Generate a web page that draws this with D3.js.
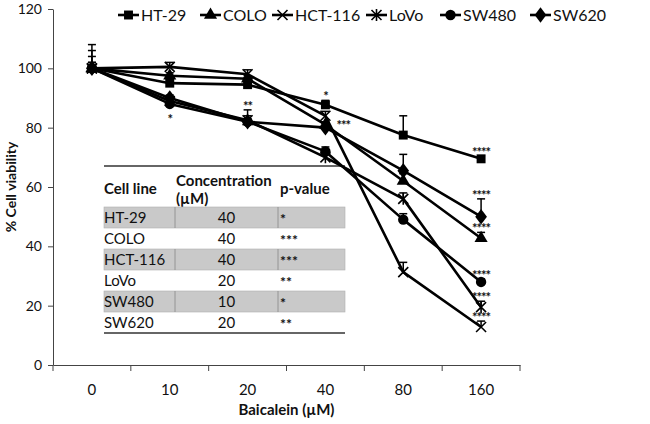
<!DOCTYPE html>
<html>
<head>
<meta charset="utf-8">
<script src="https://cdn.jsdelivr.net/npm/d3@7"></script>
<style>
  body { margin: 0; background: #fff; }
  svg text { font-family: Lato, "Liberation Sans", sans-serif; fill: #111; }
</style>
</head>
<body>
<svg id="chart" width="650" height="424"></svg>
<script>
// Doses (x categories) and y ticks
const doses = ['0', '10', '20', '40', '80', '160'];
const yTicks = [0, 20, 40, 60, 80, 100, 120];

// Mean % viability per cell line
const cellLines = ['HT-29', 'COLO', 'HCT-116', 'LoVo', 'SW480', 'SW620'];
const ht29   = [100, 95, 94.5, 87.7, 77.5, 69.5];
const colo   = [100, 97.5, 96.5, 81, 62, 42.7];
const hct116 = [100, 100.5, 98, 84, 31.3, 12.8];
const lovo   = [100, 89, 82.5, 70, 56, 19.5];
const sw480  = [100, 88, 82, 72, 49, 28];
const sw620  = [100, 90, 82, 80, 65.5, 50];

// Upper error bars
const ht29Err   = [4, 1.5, 1.5, 1.5, 6.5, 1];
const coloErr   = [2, 1, 1, 1, 2.5, 2];
const hct116Err = [8, 1.5, 1.5, 1.5, 3.3, 2];
const lovoErr   = [6, 1, 1.5, 1.5, 2, 2];
const sw480Err  = [2, 1, 1, 1.5, 2, 1];
const sw620Err  = [1, 1, 4, 1.5, 5.5, 6];

// significance marks on the plot
const sigSeries = ['SW480', 'SW620', 'HT-29', 'COLO', 'HT-29', 'COLO', 'HCT-116', 'LoVo', 'SW480', 'SW620'];
const sigDose   = ['10', '20', '40', '40', '160', '160', '160', '160', '160', '160'];
const sigText   = ['*', '**', '*', '***', '****', '****', '****', '****', '****', '****'];

// inset table
const tableConc = ['40', '40', '40', '20', '10', '20'];
const tableP    = ['*', '***', '***', '**', '*', '**'];

const values = [ht29, colo, hct116, lovo, sw480, sw620];
const errors = [ht29Err, coloErr, hct116Err, lovoErr, sw480Err, sw620Err];
const shapes = ['square', 'triangle', 'x', 'star', 'circle', 'diamond'];

const svg = d3.select('#chart');
const x0 = 53, x1 = 520;
const x = d3.scaleBand().domain(doses).range([x0, x1]);
const y = d3.scaleLinear().domain([0, 120]).range([365, 9]);
const cx = d => x(d) + x.bandwidth() / 2;

// axes
const yAxis = svg.append('g')
  .attr('transform', `translate(${x0},0)`)
  .call(d3.axisLeft(y).tickValues(yTicks).tickSize(5).tickPadding(6).tickSizeOuter(0));
yAxis.selectAll('text').attr('font-size', 14);
yAxis.selectAll('line, path').attr('stroke', '#444');

const xAxis = svg.append('g')
  .attr('transform', 'translate(0,365)')
  .call(d3.axisBottom(x).tickSize(0).tickPadding(19).tickSizeOuter(0));
xAxis.selectAll('text').attr('font-size', 15);
xAxis.select('path').attr('stroke', '#444');
xAxis.selectAll('.bnd')
  .data(d3.range(doses.length + 1))
  .join('line')
  .attr('x1', i => x0 + i * x.step()).attr('x2', i => x0 + i * x.step())
  .attr('y1', 0).attr('y2', 6)
  .attr('stroke', '#444');

svg.append('text')
  .attr('x', (x0 + x1) / 2).attr('y', 415)
  .attr('text-anchor', 'middle')
  .attr('font-size', 15).attr('font-weight', 'bold')
  .text('Baicalein (µM)');

svg.append('text')
  .attr('transform', 'translate(16,187) rotate(-90)')
  .attr('text-anchor', 'middle')
  .attr('font-size', 14).attr('font-weight', 'bold')
  .text('% Cell viability');

// inset table
const tbl = svg.append('g');
const tx0 = 104, tx1 = 345, colA = 175, colB = 278, rowTop = 207, rowH = 21;
tbl.append('line').attr('x1', tx0).attr('x2', tx1).attr('y1', 166).attr('y2', 166)
  .attr('stroke', '#333').attr('stroke-width', 1.5);
tbl.append('text').attr('x', tx0).attr('y', 194).attr('font-size', 15).attr('font-weight', 'bold').text('Cell line');
tbl.append('text').attr('x', colA + 1).attr('y', 186).attr('font-size', 15).attr('font-weight', 'bold').text('Concentration');
tbl.append('text').attr('x', colA + 1).attr('y', 204).attr('font-size', 15).attr('font-weight', 'bold').text('(µM)');
tbl.append('text').attr('x', colB + 2).attr('y', 194).attr('font-size', 15).attr('font-weight', 'bold').text('p-value');
cellLines.forEach((c, i) => {
  const ry = rowTop + i * rowH;
  if (i % 2 === 0) {
    tbl.append('rect').attr('x', tx0).attr('y', ry).attr('width', tx1 - tx0).attr('height', rowH)
      .attr('fill', '#c9c9c9').attr('stroke', '#b0b0b0').attr('stroke-width', 0.6);
    [colA, colB].forEach(cx0 => tbl.append('line').attr('x1', cx0).attr('x2', cx0)
      .attr('y1', ry).attr('y2', ry + rowH).attr('stroke', '#888').attr('stroke-width', 0.8));
  }
  tbl.append('text').attr('x', tx0).attr('y', ry + 16).attr('font-size', 15).text(c);
  tbl.append('text').attr('x', (colA + colB) / 2).attr('y', ry + 16).attr('text-anchor', 'middle')
    .attr('font-size', 15).text(tableConc[i]);
  tbl.append('text').attr('x', colB + 2).attr('y', ry + 17).attr('font-size', 14).attr('font-weight', 'bold').text(tableP[i]);
});
tbl.append('line').attr('x1', tx0).attr('x2', tx1).attr('y1', 333).attr('y2', 333)
  .attr('stroke', '#333').attr('stroke-width', 1.5);

// marker drawing
function drawMarker(g, shape, px, py) {
  if (shape === 'x') {
    g.append('path').attr('d', `M${px-5},${py-5}L${px+5},${py+5}M${px-5},${py+5}L${px+5},${py-5}`)
      .attr('stroke', '#000').attr('stroke-width', 1.6).attr('fill', 'none');
  } else if (shape === 'star') {
    g.append('path').attr('d', `M${px-5},${py-5}L${px+5},${py+5}M${px-5},${py+5}L${px+5},${py-5}M${px},${py-6}L${px},${py+6}`)
      .attr('stroke', '#000').attr('stroke-width', 1.6).attr('fill', 'none');
  } else {
    const sym = { square: d3.symbolSquare, triangle: d3.symbolTriangle, circle: d3.symbolCircle, diamond: d3.symbolDiamond }[shape];
    const size = { square: 80, triangle: 75, circle: 85, diamond: 70 }[shape];
    g.append('path').attr('d', d3.symbol().type(sym).size(size)())
      .attr('transform', `translate(${px},${py})` + (shape === 'diamond' ? ' scale(1.3,1)' : ''))
      .attr('fill', '#000');
  }
}

// series
const line = d3.line().x((d, i) => cx(doses[i])).y(d => y(d));
values.forEach((vals, s) => {
  const g = svg.append('g');
  g.append('path').datum(vals).attr('d', line)
    .attr('fill', 'none').attr('stroke', '#000').attr('stroke-width', 2.6).attr('stroke-linejoin', 'round');
  vals.forEach((v, i) => {
    const px = cx(doses[i]);
    const top = y(v + errors[s][i]);
    g.append('line').attr('x1', px).attr('x2', px).attr('y1', y(v)).attr('y2', top)
      .attr('stroke', '#000').attr('stroke-width', 1.5);
    g.append('line').attr('x1', px - 4).attr('x2', px + 4).attr('y1', top).attr('y2', top)
      .attr('stroke', '#000').attr('stroke-width', 1.5);
    drawMarker(g, shapes[s], px, y(v));
  });
});

// significance stars
sigText.forEach((t, k) => {
  const s = cellLines.indexOf(sigSeries[k]);
  const i = doses.indexOf(sigDose[k]);
  const v = values[s][i], px = cx(sigDose[k]);
  let tx = px, ty = y(v + errors[s][i]) + 1, anchor = 'middle';
  if (sigDose[k] === '10') ty = y(v) + 20;
  if (sigSeries[k] === 'COLO' && sigDose[k] === '40') { tx = px + 11; ty = y(v) + 5; anchor = 'start'; }
  svg.append('text').attr('x', tx).attr('y', ty).attr('text-anchor', anchor)
    .attr('font-size', 13).attr('font-weight', 'bold').attr('letter-spacing', -1).text(t);
});

// legend
const legX = [118, 200, 272, 366, 440, 530];
cellLines.forEach((c, s) => {
  const g = svg.append('g');
  const lx = legX[s], ly = 15;
  g.append('line').attr('x1', lx).attr('x2', lx + 21).attr('y1', ly).attr('y2', ly)
    .attr('stroke', '#000').attr('stroke-width', 2.6);
  drawMarker(g, shapes[s], lx + 10.5, ly);
  g.append('text').attr('x', lx + 23).attr('y', ly + 5.5).attr('font-size', 16).text(c);
});
</script>
</body>
</html>
